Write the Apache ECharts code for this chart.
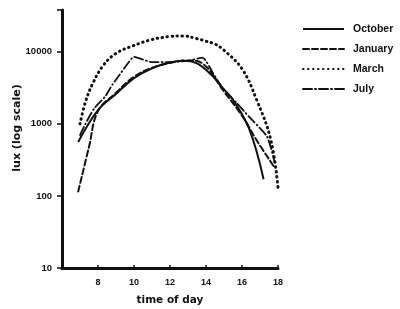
<!DOCTYPE html>
<html>
<head>
<meta charset="UTF-8">
<script type="text/javascript" src="https://cdn.jsdelivr.net/npm/echarts@6/dist/echarts.min.js"></script>
<title>lux by time of day</title>
<style>body{margin:0;background:#fff;}</style>
</head>
<body>
	<div id="main" style="width:400px;height:309px;"></div>
	<script type="text/javascript">
		// [hour, lux]
		var october = [[6.9,560],[8,1550],[9,2600],[10,4300],[11,5900],[12,7100],[12.7,7500],[13.5,6900],[14.4,4500],[15,3000],[15.5,2150],[16.4,850],[17.2,170]];
		var january = [[6.9,115],[7.5,480],[8,1500],[9,2700],[10,4500],[11,6000],[12,7000],[13,7600],[13.8,6900],[15,2800],[16,1300],[16.8,600],[17.8,250]];
		var march = [[7,1000],[7.3,2000],[7.7,3600],[8.3,6500],[9,9500],[9.9,12000],[11,14800],[12,16300],[12.7,16600],[13.5,15200],[14,14000],[14.5,12800],[15,10500],[16,5800],[16.8,2200],[17.6,600],[18,130]];
		var july = [[7,700],[7.3,1000],[7.8,1650],[8.4,2400],[8.8,3500],[9.2,4800],[9.6,6600],[10,8500],[11,7200],[12,7200],[13,7500],[13.8,8300],[14.4,5000],[14.9,3200],[15.7,1950],[16.4,1250],[17.4,660],[17.8,300]];
		var seriesNames = ['October','January','March','July'];
		var xTicks = [8,10,12,14,16,18];
		var yTicks = [10,100,1000,10000];

		var ink = '#111';
		var font = 'Liberation Sans';
		var titleFont = 'DejaVu Sans';
		var myChart = echarts.init(document.getElementById("main"));

		function mkSeries(name, data, type, width, smooth){
			return {
				name:name,
				type:'line',
				smooth:smooth,
				symbol:'none',
				data:data,
				lineStyle:{color:ink,width:width,type:type,cap:type === 'solid' ? 'butt' : 'round'},
				itemStyle:{color:ink}
			};
		}

		var option = {
			animation:false,
			backgroundColor:'#fff',
			textStyle:{fontFamily:font,color:ink},
			grid:{left:62,right:122,top:10,bottom:41,outerBoundsMode:'none'},
			legend:{
				orient:'vertical',
				left:302,
				top:23,
				padding:0,
				itemGap:8,
				itemWidth:41,
				itemHeight:12,
				itemStyle:{opacity:0},
				data:seriesNames,
				textStyle:{fontFamily:font,fontSize:10.5,fontWeight:'bold',color:ink,lineHeight:12,padding:[0,0,0,4]}
			},
			xAxis:{
				type:'value',
				min:6,
				max:18,
				interval:2,
				name:'time of day',
				nameLocation:'middle',
				nameGap:27,
				nameMoveOverlap:false,
				nameTextStyle:{fontFamily:titleFont,fontSize:10.5,fontWeight:'bold',color:ink},
				axisLine:{lineStyle:{color:ink,width:3}},
				axisTick:{inside:true,length:3,lineStyle:{color:ink,width:1.5}},
				axisLabel:{
					fontSize:9,fontWeight:'bold',color:ink,margin:10,
					formatter:function(v){ return xTicks.indexOf(v) >= 0 ? String(v) : ''; }
				},
				splitLine:{show:false}
			},
			yAxis:{
				type:'log',
				logBase:10,
				min:10,
				max:38000,
				name:'lux (log scale)',
				nameLocation:'middle',
				nameGap:39,
				nameMoveOverlap:false,
				nameTextStyle:{fontFamily:titleFont,fontSize:11,fontWeight:'bold',color:ink,padding:[0,0,0,22]},
				axisLine:{lineStyle:{color:ink,width:3}},
				axisTick:{length:5,lineStyle:{color:ink,width:1.5}},
				axisLabel:{
					fontSize:9.5,fontWeight:'bold',color:ink,margin:10,
					formatter:function(v){ return yTicks.indexOf(Math.round(v)) >= 0 ? String(Math.round(v)) : ''; }
				},
				splitLine:{show:false}
			},
			series:[
				mkSeries('October', october, 'solid', 2, 0.4),
				mkSeries('January', january, [6,3], 2, 0.4),
				mkSeries('March', march, [0.5,4.5], 3, 0.4),
				mkSeries('July', july, [9,3,1,3], 1.8, 0.2)
			]
		};
		myChart.setOption(option);
	</script>
</body>
</html>
